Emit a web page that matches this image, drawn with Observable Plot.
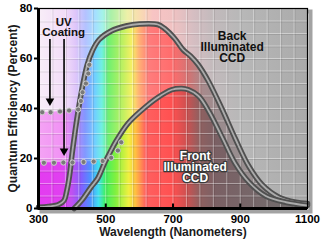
<!DOCTYPE html>
<html>
<head>
<meta charset="utf-8">
<script src="https://cdn.jsdelivr.net/npm/d3@7"></script>
<script src="https://cdn.jsdelivr.net/npm/@observablehq/plot@0.6"></script>
<style>
  html, body { margin: 0; padding: 0; background: #fff; }
  svg { display: block; }
</style>
</head>
<body>
<div id="chart"></div>
<script>
// ---- data ----
const backNm = [300, 330, 360, 376, 384, 392, 400, 409, 418, 431, 445, 460, 480, 516, 560, 600, 655, 675, 705, 730, 752, 775, 805, 845, 885, 925, 965, 1015, 1065, 1100];
const backQE = [0.5, 0.8, 1.6, 3.2, 7, 13, 22, 31, 39, 49, 57.5, 63, 67.5, 71, 73, 73.8, 73.6, 72, 68, 63.5, 61, 57.5, 51, 40, 28, 17, 9.5, 4.5, 2.5, 2];

const frontNm = [406, 430, 456, 476, 496, 513, 531, 566, 606, 656, 696, 726, 746, 776, 806, 846, 885, 926, 976, 1036, 1100];
const frontQE = [0, 3.5, 8.5, 12, 18, 22.5, 27, 34, 39.2, 44.5, 47.5, 48, 47.5, 45, 39, 28.5, 18, 10.5, 5, 2.5, 1.2];

const uvBackNm = [311, 336, 364, 391, 418, 426, 431, 441, 448, 451];
const uvBackQE = [38.5, 38.5, 38.8, 39.2, 39.6, 43, 46.5, 50, 54, 57.5];

const uvFrontNm = [316, 346, 374, 401, 434, 464, 491, 516, 536, 546];
const uvFrontQE = [18.3, 18.3, 18.4, 18.4, 18.6, 18.8, 19, 20.3, 23.2, 26.5];

const arrowNm = [334, 376];
const arrowFrom = [67.6, 67.6];
const arrowTo = [42, 22];

const xTicks = [300, 500, 700, 900, 1100];
const yTicks = [0, 20, 40, 60, 80];
const gridX = [340, 380, 420, 460, 500, 540, 580, 620, 660, 700, 740, 780, 820, 860, 900, 940, 980, 1020, 1060];
const gridY = [5, 10, 15, 20, 25, 30, 35, 40, 45, 50, 55, 60, 65, 70, 75];

const labelUV = "UV\nCoating";
const labelBack = "Back\nIlluminated\nCCD";
const labelFront = "Front\nIlluminated\nCCD";
const xLabel = "Wavelength (Nanometers)";
const yLabel = "Quantum Efficiency (Percent)";

// ---- tables built from the arrays ----
const pts = (xs, ys) => xs.map((x, i) => ({x, y: ys[i]}));
const back = pts(backNm, backQE);
const front = pts(frontNm, frontQE);
const uvBack = pts(uvBackNm, uvBackQE);
const uvFront = pts(uvFrontNm, uvFrontQE);
const arrows = arrowNm.map((x, i) => ({x, y1: arrowFrom[i], y2: arrowTo[i]}));

// upper/lower edges of the tinted regions (UV level joined onto the curve)
const upperEdge = [{x: 300, y: uvBackQE[0]}, ...uvBack.filter(d => d.x <= 418), ...back.filter(d => d.x >= 431)];
const lowerEdge = [{x: 300, y: uvFrontQE[0]}, ...uvFront.filter(d => d.x <= 491), ...front.filter(d => d.x >= 496)];

const font = "'Liberation Sans', Arial, sans-serif";
const curve = "catmull-rom";

const chart = Plot.plot({
  width: 326,
  height: 247,
  marginLeft: 38,
  marginRight: 19,
  marginTop: 8,
  marginBottom: 39,
  style: {fontFamily: font, background: "#fff", overflow: "visible"},
  x: {domain: [300, 1100], axis: null},
  y: {domain: [0, 80], axis: null},
  marks: [
    // drop shadow of the plot box
    Plot.frame({stroke: "#333", strokeWidth: 4, strokeOpacity: 0.45, dx: 3, dy: 3}),
    // spectrum backgrounds
    Plot.frame({fill: "url(#gTop)"}),
    Plot.areaY(upperEdge, {x: "x", y: "y", curve, fill: "url(#gMid)"}),
    Plot.areaY(lowerEdge, {x: "x", y: "y", curve, fill: "url(#gLow)"}),
    // grid
    Plot.ruleX(gridX, {stroke: "#fff", strokeOpacity: 0.4}),
    Plot.ruleY(gridY, {stroke: "#fff", strokeOpacity: 0.4}),
    Plot.ruleX(gridX, {stroke: "#000", strokeOpacity: 0.1, dx: 1}),
    Plot.ruleY(gridY, {stroke: "#000", strokeOpacity: 0.1, dy: 1}),
    // curves
    Plot.line(back, {x: "x", y: "y", curve, stroke: "#505050", strokeWidth: 5.5}),
    Plot.line(back, {x: "x", y: "y", curve, stroke: "#ababab", strokeWidth: 1.8}),
    Plot.line(front, {x: "x", y: "y", curve, stroke: "#505050", strokeWidth: 5.5}),
    Plot.line(front, {x: "x", y: "y", curve, stroke: "#ababab", strokeWidth: 1.8}),
    // UV-coating levels
    Plot.dot(uvBack, {x: "x", y: "y", r: 2.6, fill: "#7a7a7a", stroke: "#cfcfcf", strokeWidth: 1}),
    Plot.dot(uvFront, {x: "x", y: "y", r: 2.6, fill: "#7a7a7a", stroke: "#cfcfcf", strokeWidth: 1}),
    // arrows
    Plot.ruleX(arrows, {x: "x", y1: "y1", y2: "y2", stroke: "#000", strokeWidth: 1.6}),
    Plot.dot(arrows, {x: "x", y: "y2", symbol: "triangle", rotate: 180, r: 3.2, fill: "#000", dy: -2.5}),
    // labels
    Plot.text([labelUV], {x: 375, y: 72.4, text: d => d, fontSize: 11.5, fontWeight: "bold", fill: "#111", lineHeight: 0.95}),
    Plot.text([labelBack], {x: 876, y: 64.4, text: d => d, fontSize: 12, fontWeight: "bold", fill: "#111", lineHeight: 0.92}),
    Plot.text([labelFront], {x: 766, y: 16.4, text: d => d, fontSize: 12, fontWeight: "bold", fill: "#fff", stroke: "#3a3a3a", strokeWidth: 2.5, paintOrder: "stroke", lineHeight: 0.92}),
    // box and axes
    Plot.frame({stroke: "#000", strokeWidth: 1.2}),
    Plot.ruleX([300], {stroke: "#000", strokeWidth: 3}),
    Plot.ruleY([0], {stroke: "#000", strokeWidth: 3}),
    Plot.ruleX(xTicks.slice(1, -1), {x: d => d, y1: 0, y2: 1.8, stroke: "#000", strokeWidth: 2}),
    Plot.ruleY(yTicks, {y: d => d, x1: 288, x2: 300, stroke: "#000", strokeWidth: 2}),
    Plot.text(yTicks, {y: d => d, text: d => String(d), frameAnchor: "left", dx: -6, textAnchor: "end", fontSize: 11.5, fontWeight: "bold", fill: "#000"}),
    Plot.text(xTicks, {x: d => d, text: d => String(d), frameAnchor: "bottom", dy: 14, fontSize: 11.5, fontWeight: "bold", fill: "#000"}),
    Plot.text([xLabel], {text: d => d, frameAnchor: "bottom", dy: 27, fontSize: 12, fontWeight: "bold", fill: "#1a1a1a"}),
    Plot.text([yLabel], {text: d => d, frameAnchor: "left", dx: -25, rotate: -90, textAnchor: "middle", fontSize: 12, fontWeight: "bold", fill: "#1a1a1a"})
  ]
});

// gradients in plot coordinates
const xs = chart.scale("x");
const x0 = xs.apply(300), x1 = xs.apply(1100);
const off = nm => (nm - 300) / 800;
const gradients = {
  gTop: [[300, "#f8eef8"], [380, "#f2dcf8"], [410, "#dfc6fa"], [440, "#b4c2ff"], [470, "#a4e0ff"], [490, "#a4f2ea"], [515, "#aaf0a8"], [565, "#eef0a8"], [600, "#f8dcb0"], [640, "#f8c4c4"], [700, "#f0c2c2"], [760, "#d6bec2"], [820, "#c2babc"], [900, "#b8b8b8"], [1100, "#aaaaaa"]],
  gMid: [[300, "#f4a4f4"], [380, "#f090f4"], [410, "#c084f8"], [440, "#8298ff"], [470, "#70d0ff"], [490, "#70f0e0"], [510, "#70f070"], [555, "#c4f060"], [580, "#f8f064"], [600, "#ffb274"], [630, "#ff7c7c"], [700, "#ff6c6c"], [750, "#d07474"], [790, "#a88a8c"], [840, "#9a8c8e"], [1100, "#929292"]],
  gLow: [[300, "#e43cf0"], [370, "#e040f0"], [400, "#c050f0"], [430, "#8060ff"], [455, "#5090ff"], [480, "#40e0f0"], [500, "#40f060"], [530, "#80f040"], [570, "#f0f040"], [590, "#ffc040"], [620, "#ff6060"], [700, "#ff5050"], [740, "#d05050"], [780, "#906060"], [830, "#7a6064"], [1100, "#707070"]]
};
const svg = d3.select(chart);
const defs = svg.insert("defs", ":first-child");
for (const [id, stops] of Object.entries(gradients)) {
  const g = defs.append("linearGradient").attr("id", id)
    .attr("gradientUnits", "userSpaceOnUse")
    .attr("x1", x0).attr("x2", x1).attr("y1", 0).attr("y2", 0);
  for (const [nm, c] of stops) g.append("stop").attr("offset", off(nm)).attr("stop-color", c);
}

document.getElementById("chart").appendChild(chart);
</script>
</body>
</html>
